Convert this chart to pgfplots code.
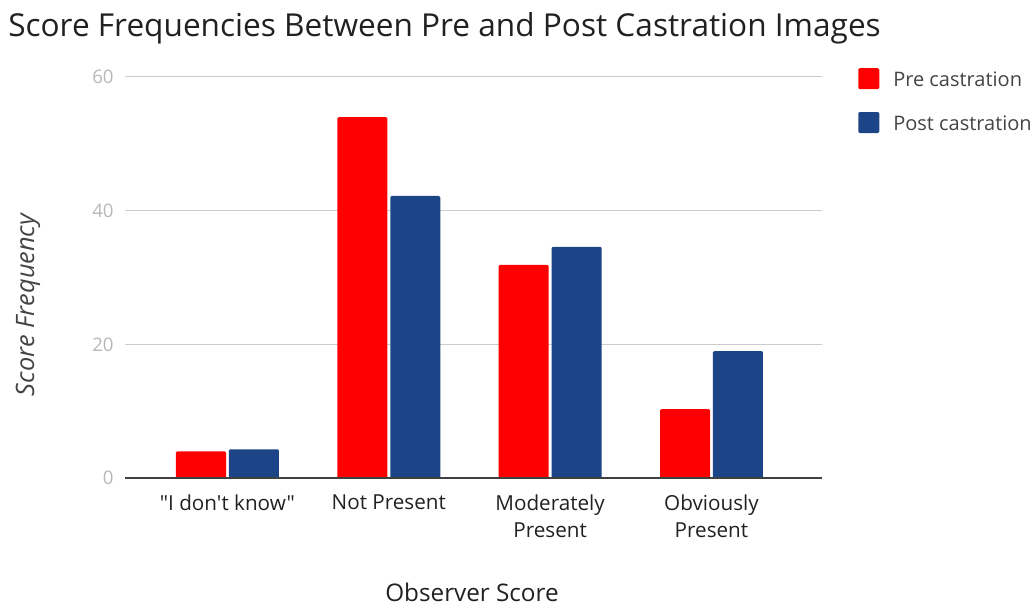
\documentclass[border=0pt]{standalone}
\usepackage{pgfplots}
\pgfplotsset{compat=1.18}
\usepackage{fontspec}
\setmainfont{Open Sans}[Ligatures=TeXOff]
\definecolor{prered}{HTML}{FF0000}
\definecolor{postblue}{HTML}{1C4587}
\definecolor{ticktxt}{HTML}{B7B7B7}
\definecolor{gridc}{HTML}{CCCCCC}
\definecolor{legtxt}{HTML}{444444}
\definecolor{titletxt}{HTML}{212121}
\begin{document}
\begin{tikzpicture}
\useasboundingbox (0,0) rectangle (777pt,456.75pt);
\node[anchor=base west, inner sep=0, font=\fontsize{23.7}{28}\selectfont, text=titletxt] at (6pt,429pt) {Score Frequencies Between Pre and Post Castration Images};
\begin{axis}[
  at={(93.75pt,98.25pt)}, anchor=south west,
  scale only axis, width=522.75pt, height=300.75pt,
  xmin=-0.635, xmax=3.685, ymin=0, ymax=60,
  ytick={0,20,40,60},
  xtick={0,1,2,3},
  xticklabels={{"I don't know"},{Not Present},{Moderately\\Present},{Obviously\\Present}},
  xticklabel style={align=center, font=\fontsize{15.5}{20.25}\selectfont, text=titletxt, anchor=north, yshift=-9pt},
  yticklabel style={font=\fontsize{14}{16}\selectfont, text=ticktxt, anchor=east, xshift=-5pt},
  /pgf/number format/assume math mode=true,
  major tick length=0pt,
  axis line style={draw=none},
  ymajorgrids, grid style={gridc, line width=0.75pt},
  ybar, bar width=0.31,
  legend style={draw=none, fill=none, at={(1.052,1.022)}, anchor=north west, inner sep=0pt, outer sep=0pt,
    font=\fontsize{15}{17}\selectfont, text=legtxt, row sep=15.5pt,
    /tikz/every even column/.append style={column sep=0pt}},
  legend cell align=left,
  legend image code/.code={\fill[#1, rounded corners=1pt] (0pt,-6.6pt) rectangle (15.75pt,9.15pt);},
  clip=false,
]
\addplot[fill=prered, draw=none, bar shift=-0.164, rounded corners=1pt] coordinates {(0,4.0) (1,54.0) (2,31.9) (3,10.3)};
\addlegendentry{\hspace{8.5pt}Pre castration}
\addplot[fill=postblue, draw=none, bar shift=0.164, rounded corners=1pt] coordinates {(0,4.3) (1,42.2) (2,34.6) (3,19.0)};
\addlegendentry{\hspace{8.5pt}Post castration}
\draw[color=black!75, line width=0.9pt] (axis cs:-0.635,0) -- (axis cs:3.685,0);
\end{axis}
\node[rotate=90, anchor=center, inner sep=0, font=\fontsize{19}{22}\itshape, text=legtxt] at (21pt,228pt) {Score Frequency};
\node[anchor=base, inner sep=0, font=\fontsize{18.2}{22}\selectfont, text=titletxt] at (354pt,5.25pt) {Observer Score};
\end{tikzpicture}
\end{document}
